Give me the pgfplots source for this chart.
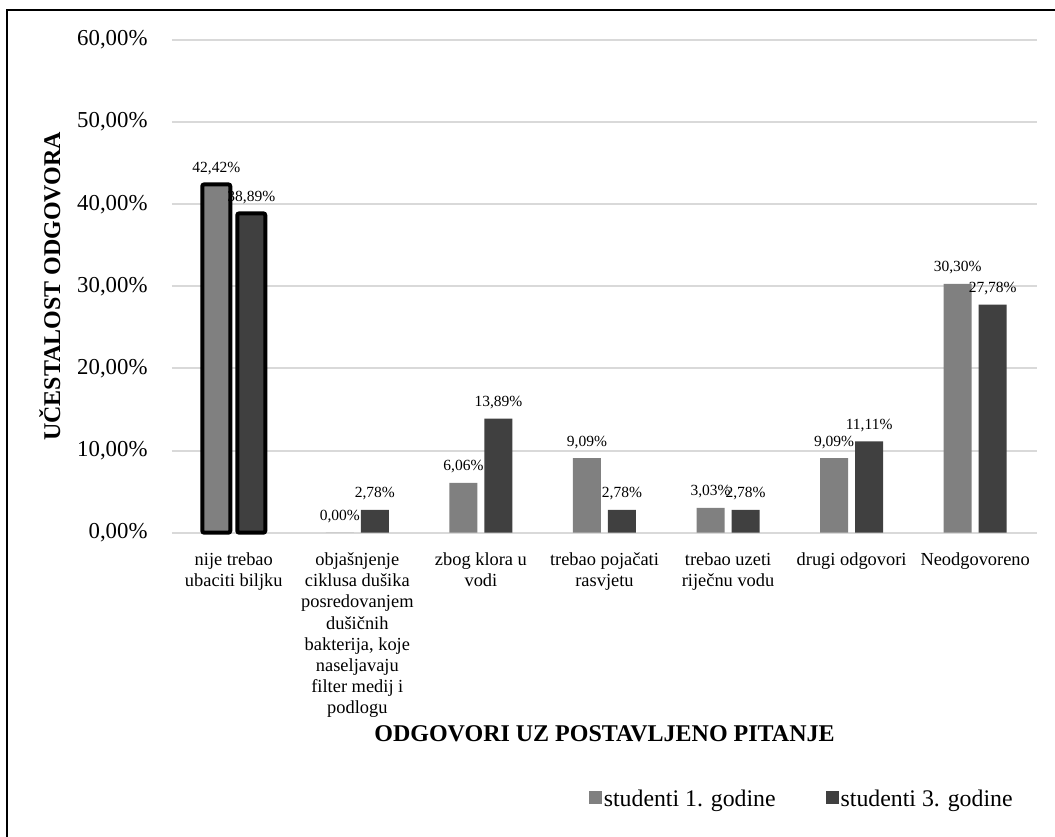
\documentclass[border=0pt]{standalone}
\usepackage{fontspec}
\setmainfont{Liberation Serif}
\usepackage{pgfplots}
\pgfplotsset{compat=1.18}
\definecolor{prva}{HTML}{808080}
\definecolor{treca}{HTML}{404040}
\definecolor{mreza}{HTML}{D9D9D9}
\pgfplotsset{
  kvprva/.style={legend image code/.code={\fill[prva] (0pt,-2pt) rectangle (6.5pt,4.5pt);}},
  kvtreca/.style={legend image code/.code={\fill[treca] (0pt,-2pt) rectangle (6.5pt,4.5pt);}},
}
\begin{document}
\begin{tikzpicture}
\useasboundingbox (-86pt,-151.65pt) rectangle (441.5pt,266.35pt);
\fill[white] (-86pt,-151.65pt) rectangle (441.5pt,266.35pt);
\draw[line width=1pt] (-82.5pt,-160pt) -- (-82.5pt,261.35pt) -- (450pt,261.35pt);
\begin{axis}[
  at={(0,0)}, anchor=south west,
  scale only axis, width=432.5pt, height=246.35pt,
  xmin=-0.5, xmax=6.5, ymin=0, ymax=60,
  clip=false,
  xtick={0,...,6},
  xticklabels={
    {nije trebao\\ubaciti biljku},
    {objašnjenje\\ciklusa dušika\\posredovanjem\\dušičnih\\bakterija, koje\\naseljavaju\\filter medij i\\podlogu},
    {zbog klora u\\vodi},
    {trebao pojačati\\rasvjetu},
    {trebao uzeti\\riječnu vodu},
    {drugi odgovori},
    {Neodgovoreno}},
  xticklabel style={align=center, font=\fontsize{9.2}{10.6}\selectfont, yshift=-6.5pt},
  ytick={0,10,...,60},
  yticklabel={\pgfmathprintnumber{\tick}\%},
  yticklabel style={font=\fontsize{11.4}{13}\selectfont, xshift=-8.7pt},
  ymajorgrids, grid style={mreza, line width=1pt},
  axis line style={draw=none},
  major tick length=0pt,
  /pgf/number format/fixed,
  /pgf/number format/fixed zerofill,
  /pgf/number format/precision=2,
  /pgf/number format/use comma,
  /pgf/number format/assume math mode=true,
  label style={font=\fontsize{12}{14}\selectfont\bfseries},
  ylabel={UČESTALOST ODGOVORA},
  ylabel style={at={(axis description cs:0,0.5)}, anchor=center, yshift=61pt},
  xlabel={ODGOVORI UZ POSTAVLJENO PITANJE},
  xlabel style={at={(axis description cs:0.5,0)}, anchor=center, yshift=-100.5pt},
  legend style={draw=none, fill=none, legend columns=-1,
    at={(axis description cs:0.728,0)}, anchor=center, yshift=-133.65pt,
    font=\fontsize{11.9}{14}\selectfont,
    nodes={inner sep=1pt},
    /tikz/every even column/.append style={column sep=24pt}},
]
\addplot[ybar, bar width=14pt, bar shift=-8.75pt, fill=prva, draw=none, kvprva,
  nodes near coords={\pgfmathprintnumber{\pgfplotspointmeta}\%},
  nodes near coords style={font=\fontsize{7.75}{9}\selectfont, anchor=base,
    xshift=-8.75pt, yshift=6pt, text=black}]
  coordinates {(0,42.42) (1,0.00) (2,6.06) (3,9.09) (4,3.03) (5,9.09) (6,30.30)};
\addlegendentry{studenti 1. godine}
\addplot[ybar, bar width=14pt, bar shift=8.75pt, fill=treca, draw=none, kvtreca,
  nodes near coords={\pgfmathprintnumber{\pgfplotspointmeta}\%},
  nodes near coords style={font=\fontsize{7.75}{9}\selectfont, anchor=base,
    xshift=8.75pt, yshift=6pt, text=black}]
  coordinates {(0,38.89) (1,2.78) (2,13.89) (3,2.78) (4,2.78) (5,11.11) (6,27.78)};
\addlegendentry{studenti 3. godine}
% istaknuti stupci prve kategorije
\addplot[ybar, bar width=14pt, bar shift=-8.75pt, fill=prva, draw=black, line width=2pt,
  rounded corners=1pt, forget plot] coordinates {(0,42.42)};
\addplot[ybar, bar width=14pt, bar shift=8.75pt, fill=treca, draw=black, line width=2pt,
  rounded corners=1pt, forget plot] coordinates {(0,38.89)};
\end{axis}
\end{tikzpicture}
\end{document}
